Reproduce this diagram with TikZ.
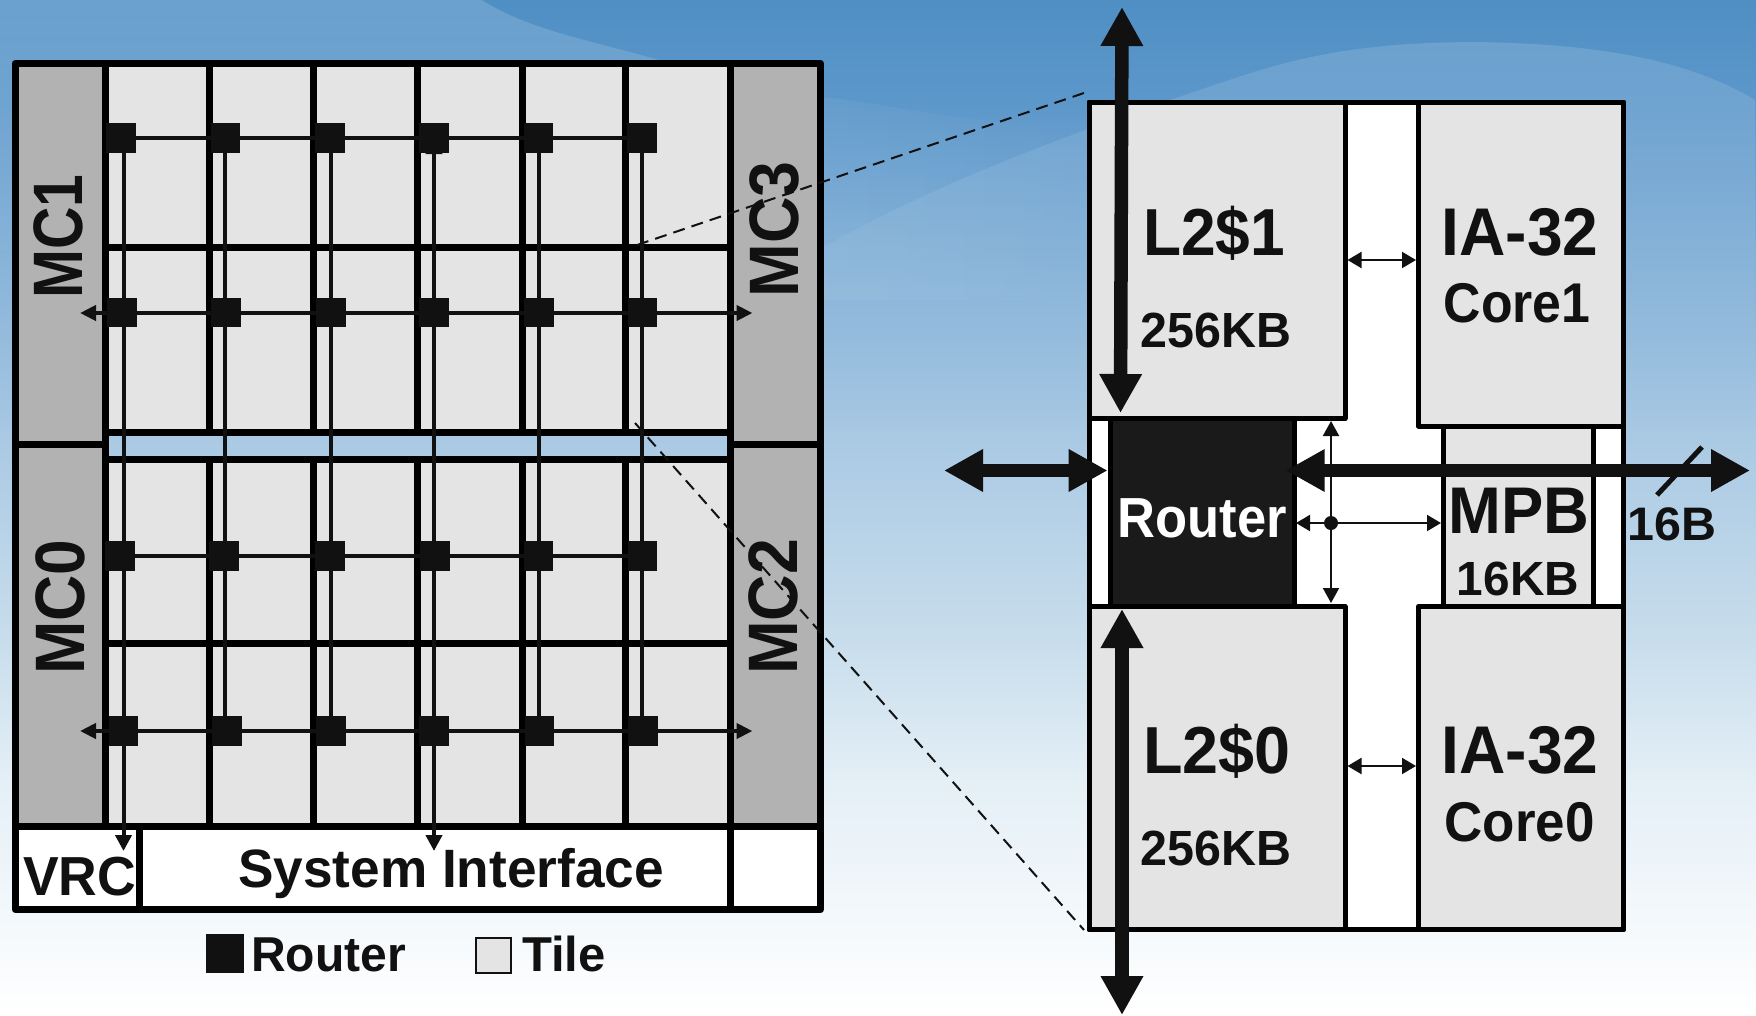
\documentclass[tikz,border=0pt]{standalone}
\usepackage{graphicx}
\usepackage{fontspec}
\setmainfont{Liberation Sans}
\usetikzlibrary{arrows.meta,fadings}
\definecolor{ink}{HTML}{111111}
\definecolor{tilegray}{HTML}{E4E4E4}
\definecolor{mcgray}{HTML}{B2B2B2}
\definecolor{routerblack}{HTML}{1A1A1A}
\definecolor{bgA}{HTML}{4F8FC4}
\definecolor{bgB}{HTML}{5C97CA}
\definecolor{bgC}{HTML}{7FAED6}
\definecolor{bgD}{HTML}{ABCAE4}
\definecolor{bgE}{HTML}{C8DDEC}
\definecolor{bgF}{HTML}{E4EFF6}
\definecolor{bgG}{HTML}{F5F9FC}
\pgfdeclareverticalshading{slidebg}{100bp}{color(0bp)=(white); color(25bp)=(white); color(29.19bp)=(bgG); color(36.58bp)=(bgF); color(43.47bp)=(bgE); color(53.08bp)=(bgD); color(62.68bp)=(bgC); color(70.07bp)=(bgB); color(75bp)=(bgA); color(100bp)=(bgA)}
\tikzfading[name=swooshfade, top color=transparent!0, bottom color=transparent!100]
\tikzfading[name=sidefade, left color=transparent!0, right color=transparent!100]
\tikzset{
  tile/.style={draw=black,fill=tilegray,line width=7pt,line join=round,inner sep=0pt,outer sep=0pt},
  mcell/.style={tile,fill=mcgray},
  whitecell/.style={tile,fill=white},
  panel/.style={draw=black,fill=tilegray,line width=5pt,line join=round,inner sep=0pt,outer sep=0pt},
  panelwhite/.style={panel,fill=white},
  routercell/.style={panel,fill=routerblack},
  router/.style={fill=ink,inner sep=0pt,outer sep=0pt,minimum size=29.5pt},
  wire/.style={draw=ink,line width=4pt},
  wirearrow/.style={wire,{Triangle[length=16pt,width=15pt]}-{Triangle[length=16pt,width=15pt]}},
  thinarrow/.style={draw=ink,line width=2pt,{Triangle[length=14pt,width=16pt]}-{Triangle[length=14pt,width=16pt]}},
  bigarrow/.style={draw=ink,line width=13.5pt,{Triangle[length=39pt,width=40pt]}-{Triangle[length=39pt,width=40pt]}},
  zoomline/.style={draw=ink,line width=2pt,dash pattern=on 12pt off 7.17pt},
  lbl/.style={inner sep=0pt,outer sep=0pt,text=ink,font=\bfseries},
}
\newcommand{\cell}[6]{\node[#1,anchor=north west,minimum width={(#5-#3)*1pt},minimum height={(#6-#4)*1pt}] (#2) at (#3,#4) {};}
\newcommand{\lab}[6]{\node[lbl,anchor=base] (#1) at (#2,#3) {\fontsize{#4}{#4}\selectfont\scalebox{#5}[1]{#6}};}
\newcommand{\rlab}[6]{\node[lbl,anchor=base,rotate=90] (#1) at (#2,#3) {\fontsize{#4}{#4}\selectfont\scalebox{#5}[1]{#6}};}
\begin{document}
\begin{tikzpicture}[x=1pt,y=-1pt]
\useasboundingbox (0,0) rectangle (1756,1015);
% background
\path[shading=slidebg] (0,0) rectangle (1756,1015);
\fill[white,opacity=.16,path fading=swooshfade] (0,0) -- (482,0) .. controls (530,30) and (590,40) .. (660,60) -- (700,100) -- (700,400) -- (0,400) -- cycle;
\fill[white,opacity=.06,path fading=sidefade] (800,95) .. controls (880,100) and (980,130) .. (1090,125) -- (1090,300) -- (800,300) -- cycle;
\fill[white,opacity=.14,path fading=swooshfade] (810,255) .. controls (933,183) and (1083,128) .. (1251,73) .. controls (1330,48) and (1400,42) .. (1480,42) .. controls (1600,44) and (1690,60) .. (1756,100) -- (1756,400) -- (810,400) -- cycle;
% left chip: tiles
\foreach \xa/\xb [count=\i] in {105.5/209,209/313.5,313.5/417.5,417.5/522,522/625.5,625.5/730}{
  \foreach \ya/\yb [count=\j] in {63.5/247,247/432,459.5/643,643/826.5}{
    \cell{tile}{t\j\i}{\xa}{\ya}{\xb}{\yb}
  }
}
\cell{mcell}{mcone}{15}{63.5}{105.5}{444.5}
\cell{mcell}{mczero}{15}{444.5}{105.5}{826.5}
\cell{mcell}{mcthree}{730}{63.5}{820.5}{444.5}
\cell{mcell}{mctwo}{730}{444.5}{820.5}{826.5}
\cell{whitecell}{vrc}{15}{826.5}{139.5}{909.5}
\cell{whitecell}{sif}{139.5}{826.5}{730}{909.5}
\cell{whitecell}{blank}{730}{826.5}{820.5}{909.5}
% routers
\foreach \x [count=\i] in {121,225.5,330,434,538.5,642}{\node[router] (ra\i) at (\x,138) {};}
\foreach \x [count=\i] in {122,226,331,434,539,642.5}{\node[router] (rb\i) at (\x,312.5) {};}
\foreach \x [count=\i] in {120,224,330,435,538.5,642.5}{\node[router] (rc\i) at (\x,556) {};}
\foreach \x [count=\i] in {123.5,227,331,434,539.5,643}{\node[router] (rd\i) at (\x,731) {};}
% wire columns and free ends
\foreach \x [count=\i] in {123.5,225,331,434,539,642}{\coordinate (cv\i) at (\x,0);}
\coordinate (vrcend) at (123.5,851);
\coordinate (sifend) at (434,851);
\coordinate (wb) at (80,313);
\coordinate (eb) at (752.5,313);
\coordinate (wd) at (80,731);
\coordinate (ed) at (752.5,731);
% horizontal wires
\draw[wire] (ra1) -- (ra6);
\draw[wirearrow] (wb) -- (eb);
\draw[wire] (rc1) -- (rc6);
\draw[wirearrow] (wd) -- (ed);
% vertical wires
\draw[wire,-{Triangle[length=16pt,width=16pt]}] (ra1 -| cv1) -- (vrcend);
\draw[wire] (ra2 -| cv2) -- (rd2 -| cv2);
\draw[wire] (ra3 -| cv3) -- (rd3 -| cv3);
\draw[wire,{Triangle[length=16pt,width=16pt]}-{Triangle[length=16pt,width=16pt]}] (ra4 -| cv4) -- (sifend);
\draw[wire] (ra5 -| cv5) -- (rd5 -| cv5);
\draw[wire] (ra6 -| cv6) -- (rd6 -| cv6);
% chip labels
\rlab{mconetxt}{82.5}{236.5}{70}{.84}{MC1}
\rlab{mczerotxt}{84.5}{607}{70}{.915}{MC0}
\rlab{mcthreetxt}{798}{229.5}{70}{.92}{MC3}
\rlab{mctwotxt}{797}{606.7}{70}{.92}{MC2}
\lab{vrctxt}{79.5}{895}{55}{.973}{VRC}
\lab{siftxt}{451}{887}{54}{.985}{System Interface}
% legend
\node[fill=ink,inner sep=0pt,anchor=north west,minimum width=38pt,minimum height=39pt] (legr) at (206,934) {};
\node[draw=ink,fill=tilegray,line width=2pt,inner sep=0pt,anchor=north west,minimum width=35pt,minimum height=35pt] (legt) at (474.5,937) {};
\node[lbl,anchor=base west] (legrtxt) at (251,971) {\fontsize{49}{49}\selectfont\scalebox{.98}[1]{Router}};
\node[lbl,anchor=base west] (legttxt) at (522,971) {\fontsize{49}{49}\selectfont Tile};
% right tile
\cell{panelwhite}{rbase}{1089}{102}{1623.5}{929.5}
\cell{panel}{ltwoone}{1089}{102}{1345}{418.5}
\cell{panel}{coreone}{1418.5}{102}{1623.5}{426}
\cell{panel}{ltwozero}{1089}{606.5}{1345}{929.5}
\cell{panel}{corezero}{1418.5}{606.5}{1623.5}{929.5}
\cell{routercell}{rtr}{1110}{418.5}{1294.5}{606.5}
\cell{panel}{mpb}{1443.5}{426}{1593.5}{606.5}
% right tile labels
\lab{ltwoonetxt}{1214}{255}{66.5}{.936}{L2\$1}
\lab{ltwozerotxt}{1217}{773}{66.5}{.973}{L2\$0}
\lab{sizeone}{1216}{347}{49.4}{.98}{256KB}
\lab{sizezero}{1216}{865}{49.4}{.98}{256KB}
\lab{iaone}{1520}{255}{67.5}{.95}{IA-32}
\lab{iazero}{1520}{773}{67.5}{.95}{IA-32}
\lab{coreonetxt}{1517}{322}{56}{.925}{Core1}
\lab{corezerotxt}{1519.5}{841}{56}{.945}{Core0}
\lab{mpbtxt}{1519}{533}{66}{.96}{MPB}
\lab{mpbsize}{1518}{595}{48}{.995}{16KB}
\node[lbl,anchor=base,text=white] (rtrtxt) at (1202,537) {\fontsize{56.5}{56.5}\selectfont\scalebox{.93}[1]{Router}};
\lab{sixteenb}{1671.7}{540}{47}{1.03}{16B}
% right tile connectors
\coordinate (hub) at (1331,523);
\coordinate (vtop) at (1331,421);
\coordinate (vbot) at (1331,603);
\coordinate (hleft) at (1296,523);
\coordinate (hright) at (1441,523);
\draw[thinarrow,{Triangle[length=15pt,width=16pt]}-{Triangle[length=15pt,width=16pt]}] (vtop) -- (vbot);
\draw[thinarrow] (hleft) -- (hright);
\fill[ink] (hub) circle (7pt);
\coordinate (ltop) at (1347.5,260);
\coordinate (rtop) at (1416,260);
\coordinate (lbot) at (1347.5,766);
\coordinate (rbot) at (1416,766);
\draw[thinarrow] (ltop) -- (rtop);
\draw[thinarrow] (lbot) -- (rbot);
\coordinate (nup) at (1122,7);
\coordinate (ndown) at (1120.5,413);
\coordinate (sup) at (1122,609);
\coordinate (sdown) at (1122,1015);
\coordinate (wl) at (944,470.5);
\coordinate (wr) at (1107.6,470.5);
\coordinate (el) at (1285.7,470.5);
\coordinate (er) at (1750,470.5);
\coordinate (slasha) at (1657,495);
\coordinate (slashb) at (1702,447);
\draw[bigarrow] (nup) -- (ndown);
\draw[bigarrow] (sup) -- (sdown);
\draw[bigarrow] (wl) -- (wr);
\draw[bigarrow] (el) -- (er);
\draw[draw=ink,line width=5pt] (slasha) -- (slashb);
% zoom lines
\coordinate (zua) at (637,245);
\coordinate (zub) at (1084,93);
\coordinate (zla) at (635,423);
\coordinate (zlb) at (1084,930);
\draw[zoomline] (zua) -- (zub);
\draw[zoomline] (zla) -- (zlb);
\end{tikzpicture}
\end{document}
